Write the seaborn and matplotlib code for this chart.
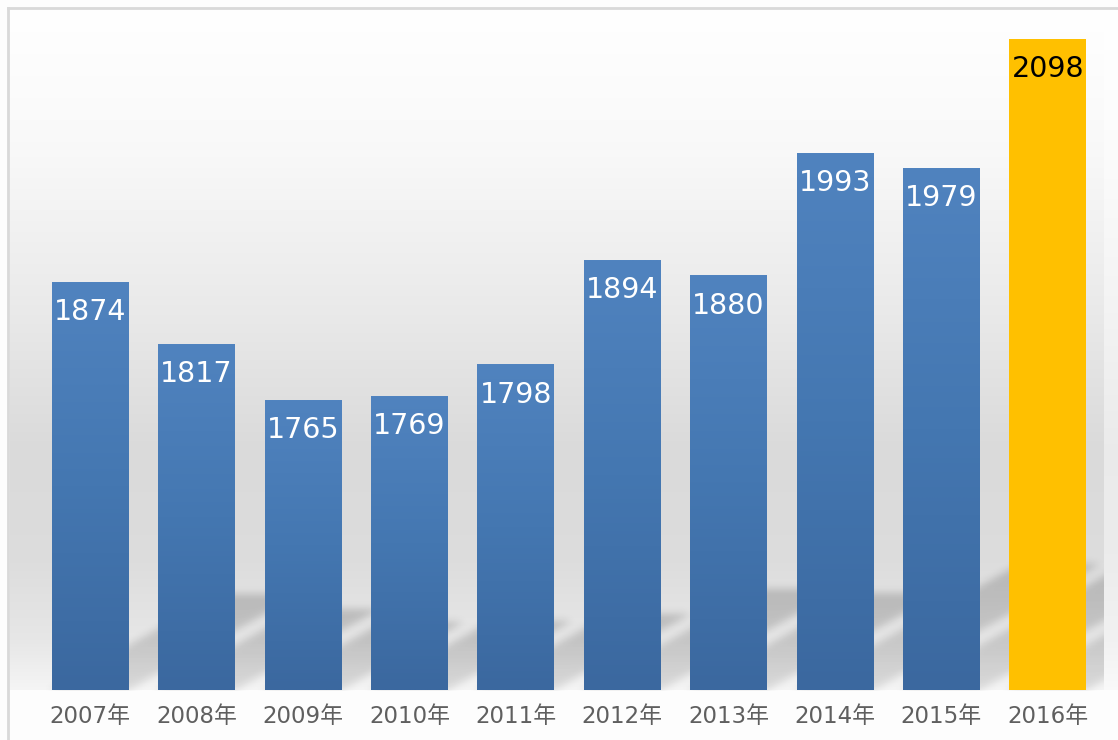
import numpy as np
import matplotlib
matplotlib.use("Agg")
import matplotlib.pyplot as plt
import seaborn as sns
from matplotlib.colors import LinearSegmentedColormap

years = ["2007年", "2008年", "2009年", "2010年", "2011年",
         "2012年", "2013年", "2014年", "2015年", "2016年"]
values = [1874, 1817, 1765, 1769, 1798, 1894, 1880, 1993, 1979, 2098]
bar_colors = ["#4f81bd"] * 9 + ["#ffc000"]
label_colors = ["white"] * 9 + ["black"]
y_min, y_max = 1498, 2125

W, H = 1118, 740
fig = plt.figure(figsize=(W / 100, H / 100), dpi=100)
fig.patch.set_facecolor("#fdfdfd")

# background: grey vertical gradient behind the plot
bg = fig.add_axes([0, 0, 1, 1], zorder=0)
bg.set_xlim(0, W)
bg.set_ylim(H, 0)
bg.axis("off")
stop_y = [10, 150, 300, 450, 560, 640, 690]
stop_v = [1.0, 0.975, 0.92, 0.855, 0.865, 0.905, 0.96]
grey = np.interp(np.arange(10, 691), stop_y, stop_v)
grad = np.dstack([np.repeat(grey[:, None], 2, axis=1)] * 3)
bg.imshow(grad, extent=(10, 1104, 690, 10), aspect="auto", interpolation="bilinear")
light = 1 - (1 - grad) * 0.55
bg.imshow(light, extent=(1104, W, 690, 10), aspect="auto", interpolation="bilinear")
bg.plot([8, 8], [H, 8], color="#d9d9d9", lw=2)
bg.plot([8, W], [8, 8], color="#d9d9d9", lw=2)
bg.set_xlim(0, W)
bg.set_ylim(H, 0)

# main axes
ax = fig.add_axes([37 / W, 50 / H, 1064 / W, 680 / H], zorder=1)
ax.patch.set_alpha(0)
sns.barplot(x=years, y=values, hue=years, palette=bar_colors, width=0.72,
            saturation=1, legend=False, ax=ax)

blue_cmap = LinearSegmentedColormap.from_list("blue", ["#3b689f", "#4477b1", "#5083bf"])
for i, (p, v) in enumerate(zip(ax.patches, values)):
    if i < 9:
        x0, w = p.get_x(), p.get_width()
        g = np.linspace(1, 0, 200)[:, None]
        ax.imshow(g, cmap=blue_cmap, extent=(x0, x0 + w, y_min, v), aspect="auto",
                  zorder=p.get_zorder() + 0.1, interpolation="bilinear")
    ax.annotate(str(v), xy=(i, v), xytext=(0, -21.5), textcoords="offset points",
                ha="center", va="center", fontsize=20.5, color=label_colors[i],
                zorder=5)

ax.set_xlim(-0.5, 9.5)
ax.set_ylim(y_min, y_max)
for s in ax.spines.values():
    s.set_visible(False)
ax.set_yticks([])
ax.set_xlabel("")
ax.set_ylabel("")
ax.tick_params(axis="x", length=0, pad=11, labelsize=16.5, labelcolor="#5f5f5f")
for lab in ax.get_xticklabels():
    lab.set_family(["DejaVu Sans", "Noto Sans CJK JP"])

# perspective shadows behind the bars
xx, yy = np.meshgrid(np.arange(W) + 0.5, H - (np.arange(H) + 0.5))
mask = np.zeros((H, W))
for i, v in enumerate(values):
    (xl, yb), (xr, yt) = ax.transData.transform([(i - 0.36, y_min), (i + 0.36, v)])
    h = 0.235 * (yt - yb)
    dx = 1.8 * h
    t = (yy - yb) / h
    inside = (t >= 0) & (t <= 1) & (xx >= xl - 4 + t * dx) & (xx <= xr + t * dx)
    mask = np.maximum(mask, inside * (0.11 + 0.07 * np.clip(t, 0, 1)))

k = np.exp(-0.5 * (np.arange(-12, 13) / 4.0) ** 2)
k /= k.sum()
mask = np.apply_along_axis(lambda r: np.convolve(r, k, mode="same"), 1, mask)
mask = np.apply_along_axis(lambda c: np.convolve(c, k, mode="same"), 0, mask)
mask[:, 1104:] = 0
mask[691:, :] = 0
shadow = np.zeros((H, W, 4))
shadow[..., 3] = mask
bg.imshow(shadow, extent=(0, W, H, 0), aspect="auto", interpolation="bilinear")
bg.set_xlim(0, W)
bg.set_ylim(H, 0)

fig.savefig("out.png", dpi=100)
